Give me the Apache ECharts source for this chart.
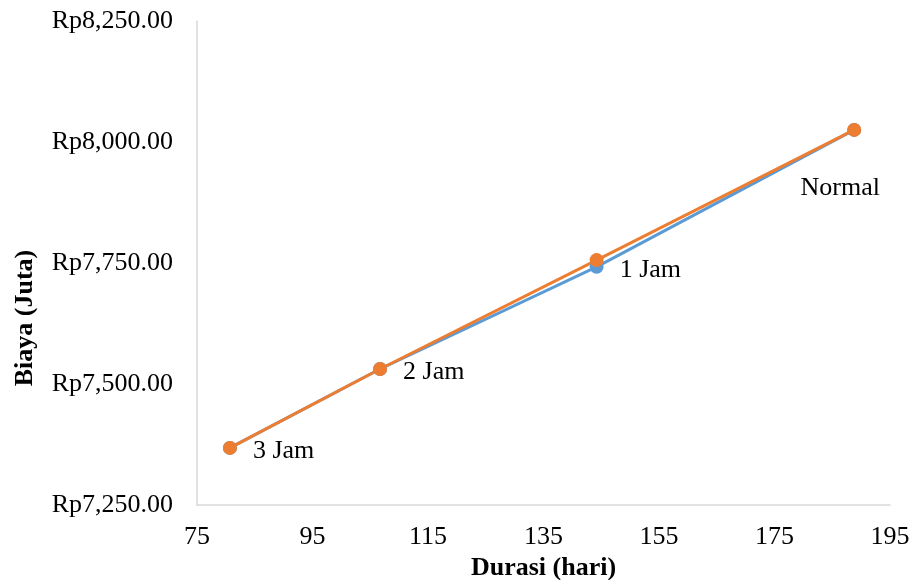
<!DOCTYPE html>
<html><head><meta charset="utf-8">
<script src="https://cdn.jsdelivr.net/npm/echarts@6/dist/echarts.min.js"></script>
<style>html,body{margin:0;padding:0;background:#fff}#c{width:915px;height:580px}</style>
</head><body><div id="c"></div>
<script>
const durasi = [80.7, 106.7, 144.2, 188.8];
const biayaA = [7368, 7531, 7742, 8025];
const biayaB = [7368, 7531, 7756, 8025];
const labels = ['3 Jam', '2 Jam', '1 Jam', 'Normal'];
const xTicks = [75, 95, 115, 135, 155, 175, 195];
const yTicks = [7250, 7500, 7750, 8000, 8250];

const FONT = '"Liberation Serif","Times New Roman",serif';
const chart = echarts.init(document.getElementById('c'));
function rp(v){ return 'Rp' + v.toLocaleString('en-US',{minimumFractionDigits:2,maximumFractionDigits:2}); }

const dataA = durasi.map((x,i)=>{
  const d = {value:[x, biayaA[i]], name: labels[i]};
  if (labels[i] === 'Normal') {
    d.label = {position:'inside', offset:[-14, 58]};
  }
  return d;
});
const dataB = durasi.map((x,i)=>[x, biayaB[i]]);

chart.setOption({
  animation:false,
  grid:{left:197, right:25, top:21, bottom:75, containLabel:false, outerBoundsMode:'none'},
  xAxis:{
    type:'value', min:75, max:195,
    name:'Durasi (hari)', nameLocation:'middle', nameGap:47,
    nameTextStyle:{fontFamily:FONT, fontSize:26, fontWeight:'bold', color:'#000'},
    axisLine:{show:true, lineStyle:{color:'#D9D9D9', width:1.5}},
    axisTick:{show:false},
    splitLine:{show:false},
    axisLabel:{customValues:xTicks, fontFamily:FONT, fontSize:26, color:'#000', margin:19}
  },
  yAxis:{
    type:'value', min:7250, max:8250, interval:250,
    axisLine:{show:true, lineStyle:{color:'#D9D9D9', width:1.5}},
    axisTick:{show:false},
    splitLine:{show:false},
    axisLabel:{fontFamily:FONT, fontSize:26, color:'#000', margin:24, formatter:rp}
  },
  graphic:[{
    type:'text', x:25, y:318, rotation:Math.PI/2,
    style:{text:'Biaya (Juta)', font:'bold 26px "Liberation Serif","Times New Roman",serif', fill:'#000', align:'center', verticalAlign:'middle'}
  }],
  series:[
    {type:'line', name:'A', data:dataA, symbol:'circle', symbolSize:14,
     lineStyle:{color:'#5B9BD5', width:3}, itemStyle:{color:'#5B9BD5'},
     label:{show:true, position:'right', distance:16, offset:[0,3], formatter:p=>p.name,
            fontFamily:FONT, fontSize:26, color:'#000'}},
    {type:'line', name:'B', data:dataB, symbol:'circle', symbolSize:14,
     lineStyle:{color:'#ED7D31', width:3}, itemStyle:{color:'#ED7D31'}}
  ]
});
</script></body></html>
